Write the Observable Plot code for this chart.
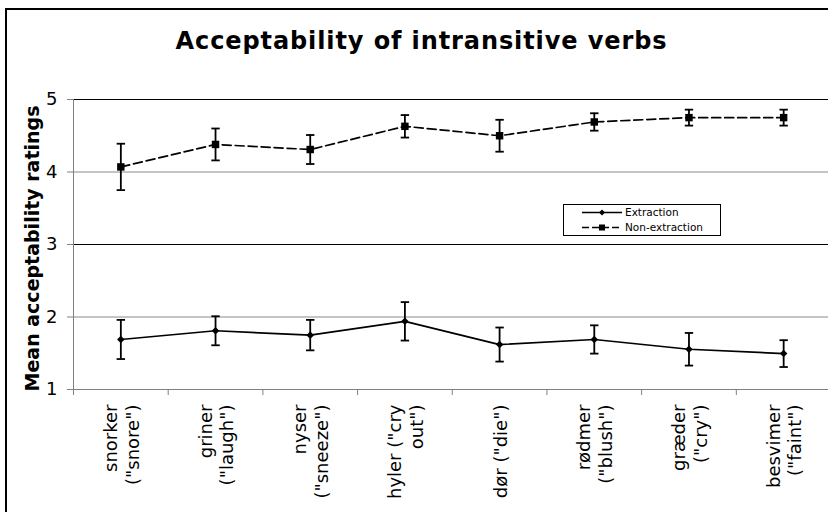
<!DOCTYPE html>
<html>
<head>
<meta charset="utf-8">
<script src="https://cdn.jsdelivr.net/npm/d3@7"></script>
<script src="https://cdn.jsdelivr.net/npm/@observablehq/plot@0.6"></script>
<style>
  html, body { margin: 0; padding: 0; background: #fff; overflow: hidden; }
  #wrap { position: relative; width: 828px; height: 512px; overflow: hidden; font-family: "DejaVu Sans", sans-serif; background: #fff; }
  #frame { position: absolute; left: 5px; top: 8px; width: 900px; height: 600px; border: 2px solid #000; box-sizing: border-box; }
  #title { position: absolute; left: 0; width: 843px; top: 29px; text-align: center; font-weight: bold; font-size: 24px; letter-spacing: 0.9px; line-height: 1; white-space: nowrap; color: #000; }
  #chart { position: absolute; left: 0; top: 0; }
  #legend { position: absolute; left: 563px; top: 204px; }
</style>
</head>
<body>
<div id="wrap">
  <div id="frame"></div>
  <div id="title">Acceptability of intransitive verbs</div>
  <div id="chart"></div>
  <svg id="legend" width="160" height="34" font-family="DejaVu Sans" font-size="10.5">
    <rect x="0.5" y="0.5" width="157" height="31" fill="#fff" stroke="#000" stroke-width="1"></rect>
    <line x1="19" y1="8.5" x2="59" y2="8.5" stroke="#000" stroke-width="1.5"></line>
    <path d="M39,5.5L42,8.5L39,11.5L36,8.5Z" fill="#000"></path>
    <text x="62" y="8.5" dy="0.36em">Extraction</text>
    <line x1="19" y1="23.5" x2="59" y2="23.5" stroke="#000" stroke-width="1.5" stroke-dasharray="7,3"></line>
    <rect x="36" y="20.5" width="6" height="6" fill="#000"></rect>
    <text x="62" y="23.5" dy="0.36em">Non-extraction</text>
  </svg>
</div>
<script>
// ---- data ----
const categories = [
  "snorker\n(\"snore\")",
  "griner\n(\"laugh\")",
  "nyser\n(\"sneeze\")",
  "hyler (\"cry\nout\")",
  "dør (\"die\")",
  "rødmer\n(\"blush\")",
  "græder\n(\"cry\")",
  "besvimer\n(\"faint\")"
];
const extraction       = [1.69, 1.81, 1.75, 1.94, 1.62, 1.69, 1.555, 1.495];
const extractionErr    = [0.27, 0.20, 0.21, 0.265, 0.235, 0.195, 0.225, 0.185];
const nonExtraction    = [4.07, 4.38, 4.31, 4.63, 4.50, 4.69, 4.75, 4.75];
const nonExtractionErr = [0.32, 0.22, 0.20, 0.155, 0.22, 0.12, 0.11, 0.11];
const yTicks = [1, 2, 3, 4, 5];
const yTitle = "Mean acceptability ratings";

// ---- derived tables ----
const idx = d3.range(categories.length);
const rows = idx.map(i => ({
  x: i + 0.5,
  label: categories[i],
  ext: extraction[i], extE: extractionErr[i],
  non: nonExtraction[i], nonE: nonExtractionErr[i]
}));
const bars = rows.flatMap(d => [
  {x: d.x, lo: d.ext - d.extE, hi: d.ext + d.extE},
  {x: d.x, lo: d.non - d.nonE, hi: d.non + d.nonE}
]);
const caps = bars.flatMap(b => [{x: b.x, y: b.lo}, {x: b.x, y: b.hi}]);
const boundaries = d3.range(categories.length + 1);
const grid = yTicks.slice(1);

const capSymbol = { draw(ctx) { ctx.moveTo(-4.2, 0); ctx.lineTo(4.2, 0); } };
const diamondSymbol = { draw(ctx, size) {
  const r = Math.sqrt(size / 2);
  ctx.moveTo(0, -r); ctx.lineTo(r, 0); ctx.lineTo(0, r); ctx.lineTo(-r, 0); ctx.closePath();
} };

const chart = Plot.plot({
  width: 828,
  height: 512,
  marginTop: 99,
  marginBottom: 123,
  marginLeft: 73,
  marginRight: -2.5,
  x: {domain: [0, categories.length], axis: null, label: null},
  y: {domain: [1, 5], axis: null, label: null},
  style: {fontFamily: "DejaVu Sans", fontSize: "18px", color: "#000", background: "transparent", overflow: "visible"},
  marks: [
    Plot.ruleY(grid, {stroke: d => (d % 2 ? "#000" : "#8a8a8a"), strokeWidth: 1}),
    Plot.ruleX([0], {stroke: "#808080"}),
    Plot.ruleY([1], {stroke: "#808080"}),
    Plot.axisY(yTicks, {label: null, tickSize: 6, tickPadding: 10, stroke: "#808080", fill: "#000", fontSize: 18, tickFormat: d => String(d)}),
    Plot.axisX(boundaries, {label: null, tickSize: 6, stroke: "#808080", tickFormat: () => ""}),
    Plot.text(rows, {x: "x", text: "label", frameAnchor: "bottom", rotate: -90, textAnchor: "end", lineAnchor: "middle", lineHeight: 1.2, dy: 15, fontSize: 18, fill: "#000"}),
    Plot.text([yTitle], {text: d => d, frameAnchor: "left", dx: -41, dy: 4, rotate: -90, textAnchor: "middle", lineAnchor: "middle", fontSize: 19, fontWeight: "bold", fill: "#000"}),
    Plot.ruleX(bars, {x: "x", y1: "lo", y2: "hi", stroke: "#000", strokeWidth: 1.8}),
    Plot.dot(caps, {x: "x", y: "y", symbol: capSymbol, r: 3, stroke: "#000", fill: "none", strokeWidth: 1.8}),
    Plot.line(rows, {x: "x", y: "ext", stroke: "#000", strokeWidth: 1.7}),
    Plot.line(rows, {x: "x", y: "non", stroke: "#000", strokeWidth: 1.7, strokeDasharray: "9,4"}),
    Plot.dot(rows, {x: "x", y: "ext", symbol: diamondSymbol, r: 3, fill: "#000"}),
    Plot.dot(rows, {x: "x", y: "non", symbol: "square", r: 4.2, fill: "#000"})
  ]
});
document.getElementById("chart").appendChild(chart);
</script>
</body>
</html>
